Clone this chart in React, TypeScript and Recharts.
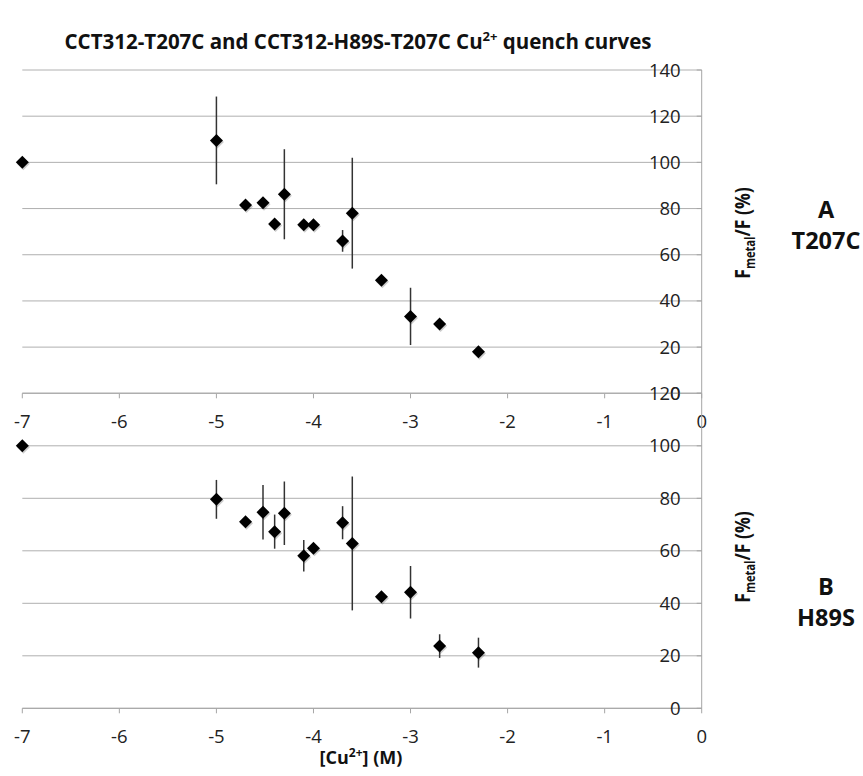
import React from 'react';
import { ScatterChart, Scatter, XAxis, YAxis, CartesianGrid, ErrorBar } from 'recharts';

// log10 [Cu2+] (M)
const logCu = [-7, -5, -4.7, -4.52, -4.4, -4.3, -4.1, -4, -3.7, -3.6, -3.3, -3, -2.7, -2.3];

// panel A: CCT312-T207C
const t207cValues = [100, 109.5, 81.5, 82.5, 73.3, 86.2, 73, 73, 66, 78, 49, 33.3, 30, 18];
const t207cErrors = [0, 19, 0, 0, 0, 19.5, 0, 0, 4.7, 24, 0, 12.4, 0, 0];

// panel B: CCT312-H89S-T207C
const h89sValues = [100, 79.6, 71.1, 74.7, 67.3, 74.3, 58.1, 61, 70.7, 62.8, 42.5, 44.2, 23.7, 21.2];
const h89sErrors = [0, 7.4, 0, 10.4, 6.5, 12.1, 6, 0, 6.3, 25.5, 0, 10, 4.5, 5.7];

const xTicks = [-7, -6, -5, -4, -3, -2, -1, 0];
const t207cTicks = [0, 20, 40, 60, 80, 100, 120, 140];
const h89sTicks = [0, 20, 40, 60, 80, 100, 120];

const FONT = '"Open Sans", sans-serif';
const AXIS = '#a6a6a6';
const GRID = '#b0b0b0';
const INK = '#111';

const toRows = (vals: number[], errs: number[]) =>
  logCu.map((x, i) => ({ x, y: vals[i], err: errs[i] }));

function Diamond(props: any) {
  const { cx, cy } = props;
  if (cx == null || cy == null) return null;
  const r = 6.5;
  const pts = (dx: number, dy: number) =>
    `${cx + dx},${cy - r + dy} ${cx + r + dx},${cy + dy} ${cx + dx},${cy + r + dy} ${cx - r + dx},${cy + dy}`;
  return (
    <g>
      <polygon points={pts(1, 1.5)} fill="#000" opacity={0.2} />
      <polygon points={pts(0, 0)} fill="#000" />
    </g>
  );
}

const tickStyle = { fill: '#222', fontSize: 18.5, fontFamily: FONT };

function Panel({ height, margin, yMax, yTicks, rows }: any) {
  return (
    <ScatterChart width={863} height={height} margin={margin}>
      <CartesianGrid horizontal vertical={false} stroke={GRID} />
      <XAxis
        type="number"
        dataKey="x"
        domain={[-7, 0]}
        ticks={xTicks}
        interval={0}
        height={40}
        tick={tickStyle}
        tickSize={5}
        tickMargin={16.5}
        axisLine={{ stroke: AXIS }}
        tickLine={{ stroke: AXIS }}
      />
      <YAxis
        type="number"
        dataKey="y"
        orientation="right"
        mirror
        domain={[0, yMax]}
        ticks={yTicks}
        interval={0}
        tick={tickStyle}
        tickSize={5}
        tickMargin={16}
        axisLine={{ stroke: AXIS }}
        tickLine={{ stroke: AXIS }}
      />
      <Scatter data={rows} shape={<Diamond />} isAnimationActive={false}>
        <ErrorBar dataKey="err" direction="y" width={0} stroke="#333" strokeWidth={1.5} isAnimationActive={false} />
      </Scatter>
    </ScatterChart>
  );
}

function MetalLabel({ x, y }: { x: number; y: number }) {
  return (
    <text transform={`translate(${x},${y}) rotate(-90) scale(0.8,1)`} textAnchor="middle" fontWeight="bold" fontSize={22} fill={INK}>
      F<tspan fontSize={14} dy={5}>metal</tspan>
      <tspan dy={-5}>/F (%)</tspan>
    </text>
  );
}

export default function App() {
  return (
    <div style={{ position: 'absolute', left: 0, top: 0, width: 863, height: 776, background: '#fff', fontFamily: FONT }}>
      <div style={{ position: 'absolute', left: 0, top: 0 }}>
        <Panel
          height={440}
          margin={{ top: 70, right: 161.3, left: 22.3, bottom: 6.7 }}
          yMax={140}
          yTicks={t207cTicks}
          rows={toRows(t207cValues, t207cErrors)}
        />
      </div>
      <div style={{ position: 'absolute', left: 0, top: 0 }}>
        <Panel
          height={776}
          margin={{ top: 393.3, right: 161.3, left: 22.3, bottom: 27.7 }}
          yMax={120}
          yTicks={h89sTicks}
          rows={toRows(h89sValues, h89sErrors)}
        />
      </div>
      <svg width={863} height={776} style={{ position: 'absolute', left: 0, top: 0, pointerEvents: 'none' }} fontFamily={FONT}>
        <text x={358} y={49} textAnchor="middle" fontWeight="bold" fontSize={20.5} fill={INK}>
          CCT312-T207C and CCT312-H89S-T207C Cu
          <tspan dy={-8} fontSize={13}>2+</tspan>
          <tspan dy={8}> quench curves</tspan>
        </text>
        <MetalLabel x={750} y={233} />
        <MetalLabel x={750} y={557} />
        <text x={826} y={218} textAnchor="middle" fontWeight="bold" fontSize={23.5} fill={INK}>A</text>
        <text x={826} y={249} textAnchor="middle" fontWeight="bold" fontSize={23.5} fill={INK}>T207C</text>
        <text x={826} y={595} textAnchor="middle" fontWeight="bold" fontSize={23.5} fill={INK}>B</text>
        <text x={826} y={626} textAnchor="middle" fontWeight="bold" fontSize={23.5} fill={INK}>H89S</text>
        <text x={361} y={764} textAnchor="middle" fontWeight="bold" fontSize={18} fill={INK}>
          [Cu<tspan dy={-7} fontSize={12}>2+</tspan>
          <tspan dy={7}>] (M)</tspan>
        </text>
      </svg>
    </div>
  );
}
